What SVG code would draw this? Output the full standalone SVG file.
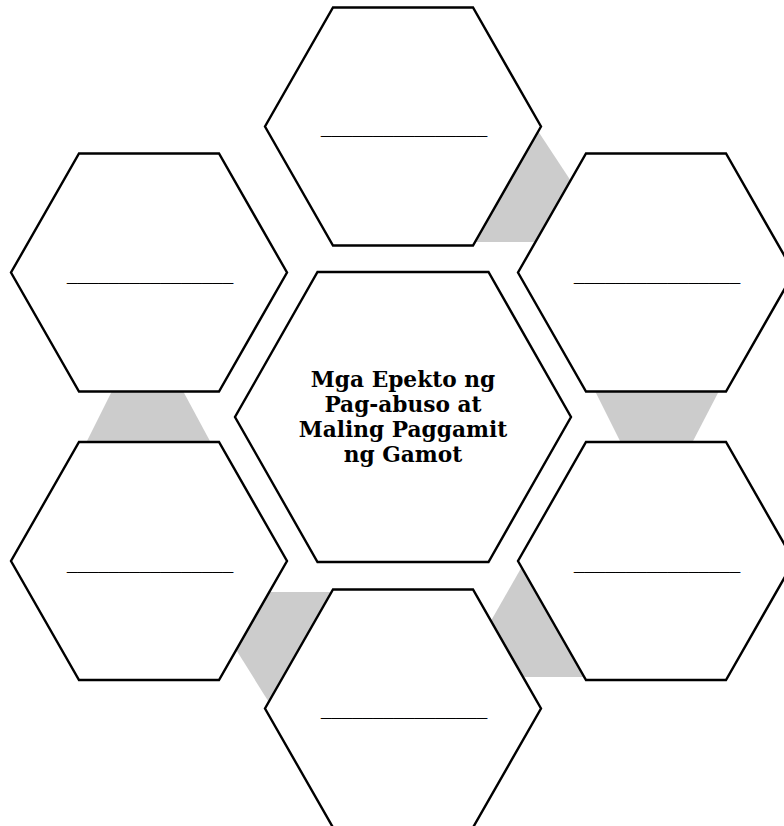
<svg xmlns="http://www.w3.org/2000/svg" width="784" height="826" viewBox="0 0 784 826">
  <style>
    .hex { fill: #ffffff; stroke: #000000; stroke-width: 2.4; stroke-linejoin: miter; }
    .conn { fill: #cccccc; stroke: none; }
    .blank { font-family: "DejaVu Serif", "Liberation Serif", serif; font-size: 21px; fill: #000000; stroke: #000000; stroke-width: 0.4; }
    .title { font-family: "DejaVu Serif", "Liberation Serif", serif; font-size: 21.7px; font-weight: bold; fill: #000000; text-anchor: middle; }
  </style>
  <rect width="784" height="826" fill="#ffffff"/>
  <g id="connectors">
    <polygon class="conn" points="470,242 536,128 590,210 560,242"/>
    <polygon class="conn" points="595,391 719,391 692,443 621,443"/>
    <polygon class="conn" points="524,563 480,640 500,677 600,677 560,600"/>
    <polygon class="conn" points="260,592 340,592 275,712 230,640"/>
    <polygon class="conn" points="112,391 183,391 211,443 86,443"/>
  </g>
  <g id="hex-top">
    <polygon class="hex" points="333,7.5 473,7.5 541,126.5 473,245.5 333,245.5 265,126.5"/>
    <text class="blank" x="321" y="132" textLength="166" lengthAdjust="spacingAndGlyphs">________________</text>
  </g>
  <g id="hex-top-left">
    <polygon class="hex" points="79,153.5 219,153.5 287,272.5 219,391.5 79,391.5 11,272.5"/>
    <text class="blank" x="67" y="279" textLength="166" lengthAdjust="spacingAndGlyphs">________________</text>
  </g>
  <g id="hex-top-right">
    <polygon class="hex" points="586,153.5 726,153.5 794,272.5 726,391.5 586,391.5 518,272.5"/>
    <text class="blank" x="574" y="279" textLength="166" lengthAdjust="spacingAndGlyphs">________________</text>
  </g>
  <g id="hex-bottom-left">
    <polygon class="hex" points="79,442 219,442 287,561 219,680 79,680 11,561"/>
    <text class="blank" x="67" y="568" textLength="166" lengthAdjust="spacingAndGlyphs">________________</text>
  </g>
  <g id="hex-bottom-right">
    <polygon class="hex" points="586,442 726,442 794,561 726,680 586,680 518,561"/>
    <text class="blank" x="574" y="568" textLength="166" lengthAdjust="spacingAndGlyphs">________________</text>
  </g>
  <g id="hex-bottom">
    <polygon class="hex" points="333,589.5 473,589.5 541,708.5 473,827.5 333,827.5 265,708.5"/>
    <text class="blank" x="321" y="714" textLength="166" lengthAdjust="spacingAndGlyphs">________________</text>
  </g>
  <g id="hex-center">
    <polygon class="hex" points="317.5,272 488.5,272 571,417 488.5,562 317.5,562 235,417"/>
    <text class="title" x="403" y="387">Mga Epekto ng</text>
    <text class="title" x="403" y="412">Pag-abuso at</text>
    <text class="title" x="403" y="437">Maling Paggamit</text>
    <text class="title" x="403" y="462">ng Gamot</text>
  </g>
</svg>
